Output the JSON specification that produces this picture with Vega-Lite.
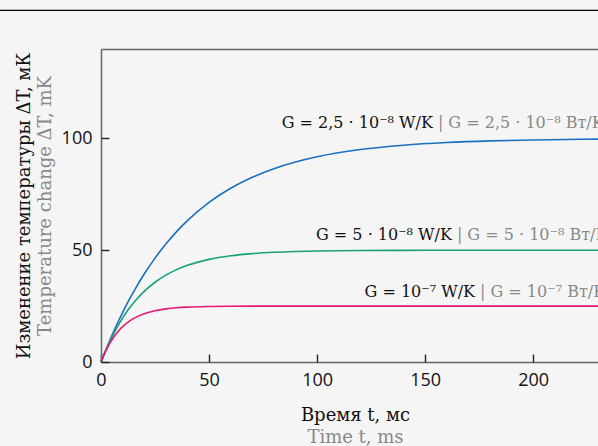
{
  "$schema": "https://vega.github.io/schema/vega-lite/v6.json",
  "width": 497,
  "height": 313,
  "autosize": "none",
  "padding": {"left": 101, "top": 49, "right": 0, "bottom": 84},
  "background": "#f5f5f5",
  "config": {
    "view": {"stroke": null},
    "axis": {
      "grid": false,
      "labelFont": "Open Sans",
      "labelFontSize": 18,
      "labelColor": "#111111",
      "labelFlush": false,
      "titleFont": "DejaVu Serif",
      "titleFontSize": 18,
      "titleFontWeight": "normal",
      "domainColor": "#666666",
      "domainWidth": 1.5,
      "tickColor": "#222222",
      "tickSize": 8,
      "tickWidth": 1.4
    }
  },
  "resolve": {
    "scale": {"x": "independent", "y": "independent"},
    "axis": {"x": "independent", "y": "independent"}
  },
  "layer": [
    {
      "data": {"values": [{"k": 1}]},
      "mark": {"type": "rule", "color": "#000000", "strokeWidth": 1.3, "clip": false},
      "encoding": {
        "x": {"datum": -47, "type": "quantitative", "scale": {"domain": [0, 230], "nice": false, "zero": false}, "axis": {"orient": "top", "labels": false, "ticks": false, "title": null, "domain": true}},
        "x2": {"datum": 230},
        "y": {"datum": 157.3, "type": "quantitative", "scale": {"domain": [0, 140], "nice": false}, "axis": null}
      }
    },
    {
      "data": {
        "values": [
          {"t": 0, "dT": 0, "g": "a"}, {"t": 2, "dT": 4.88, "g": "a"}, {"t": 4, "dT": 9.52, "g": "a"}, {"t": 6, "dT": 13.93, "g": "a"}, {"t": 8, "dT": 18.13, "g": "a"}, {"t": 10, "dT": 22.12, "g": "a"}, {"t": 13, "dT": 27.75, "g": "a"}, {"t": 16, "dT": 32.97, "g": "a"}, {"t": 20, "dT": 39.35, "g": "a"}, {"t": 25, "dT": 46.47, "g": "a"}, {"t": 30, "dT": 52.76, "g": "a"}, {"t": 35, "dT": 58.31, "g": "a"}, {"t": 40, "dT": 63.21, "g": "a"}, {"t": 50, "dT": 71.35, "g": "a"}, {"t": 60, "dT": 77.69, "g": "a"}, {"t": 70, "dT": 82.62, "g": "a"}, {"t": 80, "dT": 86.47, "g": "a"}, {"t": 90, "dT": 89.46, "g": "a"}, {"t": 100, "dT": 91.79, "g": "a"}, {"t": 120, "dT": 95.02, "g": "a"}, {"t": 140, "dT": 96.98, "g": "a"}, {"t": 160, "dT": 98.17, "g": "a"}, {"t": 180, "dT": 98.89, "g": "a"}, {"t": 200, "dT": 99.33, "g": "a"}, {"t": 230, "dT": 99.68, "g": "a"},
          {"t": 0, "dT": 0, "g": "b"}, {"t": 2, "dT": 4.76, "g": "b"}, {"t": 4, "dT": 9.06, "g": "b"}, {"t": 6, "dT": 12.96, "g": "b"}, {"t": 8, "dT": 16.48, "g": "b"}, {"t": 10, "dT": 19.67, "g": "b"}, {"t": 13, "dT": 23.9, "g": "b"}, {"t": 16, "dT": 27.53, "g": "b"}, {"t": 20, "dT": 31.61, "g": "b"}, {"t": 25, "dT": 35.67, "g": "b"}, {"t": 30, "dT": 38.84, "g": "b"}, {"t": 35, "dT": 41.31, "g": "b"}, {"t": 40, "dT": 43.23, "g": "b"}, {"t": 50, "dT": 45.9, "g": "b"}, {"t": 60, "dT": 47.51, "g": "b"}, {"t": 70, "dT": 48.49, "g": "b"}, {"t": 80, "dT": 49.08, "g": "b"}, {"t": 90, "dT": 49.44, "g": "b"}, {"t": 100, "dT": 49.66, "g": "b"}, {"t": 120, "dT": 49.88, "g": "b"}, {"t": 140, "dT": 49.95, "g": "b"}, {"t": 160, "dT": 49.98, "g": "b"}, {"t": 180, "dT": 49.99, "g": "b"}, {"t": 200, "dT": 50, "g": "b"}, {"t": 230, "dT": 50, "g": "b"},
          {"t": 0, "dT": 0, "g": "c"}, {"t": 2, "dT": 4.53, "g": "c"}, {"t": 4, "dT": 8.24, "g": "c"}, {"t": 6, "dT": 11.28, "g": "c"}, {"t": 8, "dT": 13.77, "g": "c"}, {"t": 10, "dT": 15.8, "g": "c"}, {"t": 13, "dT": 18.19, "g": "c"}, {"t": 16, "dT": 19.95, "g": "c"}, {"t": 20, "dT": 21.62, "g": "c"}, {"t": 25, "dT": 22.95, "g": "c"}, {"t": 30, "dT": 23.76, "g": "c"}, {"t": 35, "dT": 24.24, "g": "c"}, {"t": 40, "dT": 24.54, "g": "c"}, {"t": 50, "dT": 24.83, "g": "c"}, {"t": 60, "dT": 24.94, "g": "c"}, {"t": 70, "dT": 24.98, "g": "c"}, {"t": 80, "dT": 24.99, "g": "c"}, {"t": 100, "dT": 25, "g": "c"}, {"t": 150, "dT": 25, "g": "c"}, {"t": 230, "dT": 25, "g": "c"}
        ]
      },
      "mark": {"type": "line", "strokeWidth": 1.6, "interpolate": "monotone"},
      "encoding": {
        "x": {"field": "t", "type": "quantitative", "scale": {"domain": [0, 230], "nice": false}, "axis": {"values": [0, 50, 100, 150, 200], "ticks": false, "labelPadding": 9, "title": "Время t, мс", "titleColor": "#111111", "titlePadding": 17, "titleX": 254}},
        "y": {"field": "dT", "type": "quantitative", "scale": {"domain": [0, 140], "nice": false}, "axis": {"values": [0, 50, 100], "ticks": false, "labelPadding": 9, "title": "Изменение температуры ΔT, мК", "titleColor": "#111111", "titlePadding": 28}},
        "color": {"field": "g", "type": "nominal", "scale": {"domain": ["a", "b", "c"], "range": ["#1a70c0", "#1aa07a", "#e6197a"]}, "legend": null}
      }
    },
    {
      "data": {
        "values": [
          {"t": 155.9, "v": 104.7, "black": "G = 2,5 · 10⁻⁸ W/K", "gray": "| G = 2,5 · 10⁻⁸ Вт/K"},
          {"t": 164.7, "v": 54.6, "black": "G = 5 · 10⁻⁸ W/K", "gray": "| G = 5 · 10⁻⁸ Вт/K"},
          {"t": 175.4, "v": 29.2, "black": "G = 10⁻⁷ W/K", "gray": "| G = 10⁻⁷ Вт/K"}
        ]
      },
      "mark": {"type": "text", "align": "right", "baseline": "alphabetic", "dx": -5, "font": "DejaVu Serif", "fontSize": 16, "color": "#111111"},
      "encoding": {
        "x": {"field": "t", "type": "quantitative", "scale": {"domain": [0, 230], "nice": false}, "axis": {"orient": "bottom", "labels": false, "ticks": false, "domain": false, "title": "Time t, ms", "titleColor": "#888888", "titlePadding": 66, "titleX": 254}},
        "y": {"field": "v", "type": "quantitative", "scale": {"domain": [0, 140], "nice": false}, "axis": {"orient": "left", "labels": false, "ticks": false, "domain": false, "title": "Temperature change ΔT, mK", "titleColor": "#888888", "titlePadding": 47}},
        "text": {"field": "black"}
      }
    },
    {
      "data": {
        "values": [
          {"t": 155.9, "v": 104.7, "black": "G = 2,5 · 10⁻⁸ W/K", "gray": "| G = 2,5 · 10⁻⁸ Вт/K"},
          {"t": 164.7, "v": 54.6, "black": "G = 5 · 10⁻⁸ W/K", "gray": "| G = 5 · 10⁻⁸ Вт/K"},
          {"t": 175.4, "v": 29.2, "black": "G = 10⁻⁷ W/K", "gray": "| G = 10⁻⁷ Вт/K"}
        ]
      },
      "mark": {"type": "text", "align": "left", "baseline": "alphabetic", "font": "DejaVu Serif", "fontSize": 16, "color": "#888888"},
      "encoding": {
        "x": {"field": "t", "type": "quantitative", "scale": {"domain": [0, 230], "nice": false}, "axis": {"orient": "top", "offset": -313, "values": [0, 50, 100, 150, 200], "labels": false, "domain": false, "ticks": true, "title": null}},
        "y": {"field": "v", "type": "quantitative", "scale": {"domain": [0, 140], "nice": false}, "axis": {"orient": "right", "offset": -497, "values": [0, 50, 100], "labels": false, "domain": false, "ticks": true, "title": null}},
        "text": {"field": "gray"}
      }
    }
  ]
}
